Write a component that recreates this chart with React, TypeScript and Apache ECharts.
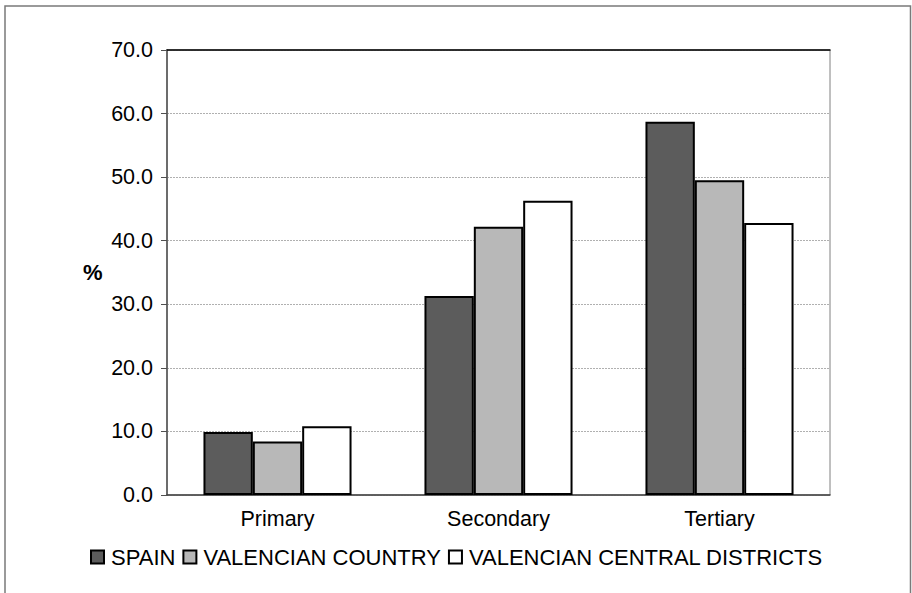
import React, { useEffect, useRef } from "react";
import * as echarts from "echarts";

const categories = ["Primary", "Secondary", "Tertiary"];
const spain = [9.9, 31.3, 58.7];
const valencianCountry = [8.4, 42.2, 49.5];
const valencianCentral = [10.8, 46.3, 42.8];
const seriesNames = ["SPAIN", "VALENCIAN COUNTRY", "VALENCIAN CENTRAL DISTRICTS"];
const seriesColors = ["#5c5c5c", "#b8b8b8", "#ffffff"];

const FONT = "'Liberation Sans', Arial, sans-serif";

export default function App() {
  const ref = useRef<HTMLDivElement>(null);

  useEffect(() => {
    if (!ref.current) return;
    const chart = echarts.init(ref.current, undefined, { renderer: "svg" });
    const values = [spain, valencianCountry, valencianCentral];

    chart.setOption({
      animation: false,
      backgroundColor: "#ffffff",
      textStyle: { fontFamily: FONT },
      grid: {
        left: 167,
        top: 50,
        right: 82,
        bottom: 98,
        show: true,
        borderColor: "#808080",
        borderWidth: 1,
        backgroundColor: "transparent",
      },
      legend: {
        data: seriesNames,
        left: 85,
        top: 541,
        itemWidth: 13,
        itemHeight: 13,
        itemGap: 7,
        icon: "rect",
        itemStyle: { borderColor: "#000", borderWidth: 2 },
        textStyle: { fontSize: 22, color: "#000", fontFamily: FONT, padding: [0, 0, 0, 2] },
      },
      xAxis: [
        {
          type: "category",
          data: categories,
          axisLine: { lineStyle: { color: "#404040", width: 1.5 } },
          axisTick: { show: false },
          axisLabel: { fontSize: 21.5, color: "#000", margin: 13, fontFamily: FONT },
        },
        {
          type: "category",
          position: "top",
          data: categories,
          axisLine: { show: true, lineStyle: { color: "#000", width: 1.5 } },
          axisTick: { show: false },
          axisLabel: { show: false },
        },
      ],
      yAxis: {
        type: "value",
        min: 0,
        max: 70,
        interval: 10,
        axisLine: { show: true, lineStyle: { color: "#505050", width: 1.5 } },
        axisTick: { show: true, length: 6, lineStyle: { color: "#505050" } },
        axisLabel: {
          fontSize: 21.5,
          color: "#000",
          margin: 14,
          fontFamily: FONT,
          formatter: (v: number) => v.toFixed(1),
        },
        splitLine: { show: true, lineStyle: { color: "#b0b0b0", type: [2, 1], width: 1 } },
      },
      graphic: [
        {
          type: "polyline",
          shape: { points: [[5, 593], [5, 6], [910.5, 6], [910.5, 593]] },
          style: { stroke: "#7a7a7a", lineWidth: 1.5, fill: "none" },
          silent: true,
        },
        {
          type: "text",
          left: 83,
          top: 261,
          style: { text: "%", font: `bold 22px ${FONT}`, fill: "#000" },
        },
      ],
      series: values.map((vals, i) => ({
        name: seriesNames[i],
        type: "bar",
        data: vals,
        barGap: "0%",
        barCategoryGap: "33%",
        itemStyle: { color: seriesColors[i], borderColor: "#000", borderWidth: 2 },
      })),
    });

    return () => chart.dispose();
  }, []);

  return (
    <div
      ref={ref}
      style={{ position: "fixed", left: 0, top: 0, width: 912, height: 593 }}
    />
  );
}
